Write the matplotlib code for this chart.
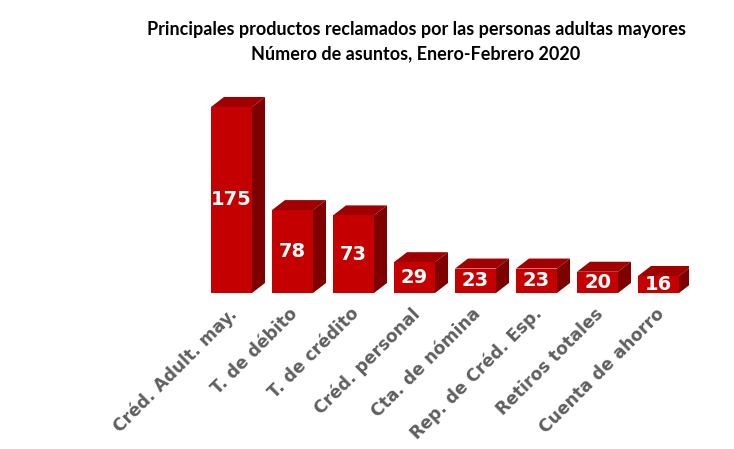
import matplotlib
matplotlib.use("Agg")
import matplotlib.pyplot as plt
from matplotlib.patches import Polygon

categories = ["Créd. Adult. may.", "T. de débito", "T. de crédito", "Créd. personal",
              "Cta. de nómina", "Rep. de Créd. Esp.", "Retiros totales", "Cuenta de ahorro"]
values = [175, 78, 73, 29, 23, 23, 20, 16]
title_lines = ["Principales productos reclamados por las personas adultas mayores",
               "Número de asuntos, Enero-Febrero 2020"]

W, H = 734, 449
fig = plt.figure(figsize=(W / 100, H / 100), dpi=100)
px_per_unit = 1.063
ymax = 190
left_px, right_px = 201, 689
base_px = 293  # from top
ax = fig.add_axes([left_px / W, (H - base_px) / H, (right_px - left_px) / W,
                   ymax * px_per_unit / H])
ax.set_xlim(-0.5, 7.5)
ax.set_ylim(0, ymax)
ax.axis("off")

bw = 41 / 61
dx = 13 / 61
dy = 10 / px_per_unit
front_c = "#C40000"
top_c = "#A10000"
side_c = "#7E0000"

xs = list(range(len(values)))
ax.bar(xs, values, width=bw, color=front_c, zorder=3, linewidth=0)
for x, v in zip(xs, values):
    l, r = x - bw / 2, x + bw / 2
    ax.add_patch(Polygon([(l, v), (r, v), (r + dx, v + dy), (l + dx, v + dy)],
                         closed=True, facecolor=top_c, edgecolor="none", zorder=2))
    ax.add_patch(Polygon([(r, 0), (r + dx, dy), (r + dx, v + dy), (r, v)],
                         closed=True, facecolor=side_c, edgecolor="none", zorder=2))
    ax.text(x, v / 2, str(v), ha="center", va="center", color="white",
            fontsize=14, fontweight="bold", family="DejaVu Sans", zorder=4)

for x, lab in zip(xs, categories):
    ax.annotate(lab, xy=(x, 0), xytext=(2, -13), textcoords="offset points",
                ha="right", va="center", rotation=45, rotation_mode="anchor",
                fontsize=12.3, fontweight="bold", family="DejaVu Sans", color="#5f5f5f",
                annotation_clip=False)

fig.text(416 / W, 1 - 30 / H, title_lines[0], ha="center", va="center",
         fontsize=13, fontweight="bold", family="Lato", color="black")
fig.text(416 / W, 1 - 54 / H, title_lines[1], ha="center", va="center",
         fontsize=13, fontweight="bold", family="Lato", color="black")

fig.savefig("out.png", dpi=100, facecolor="white")
